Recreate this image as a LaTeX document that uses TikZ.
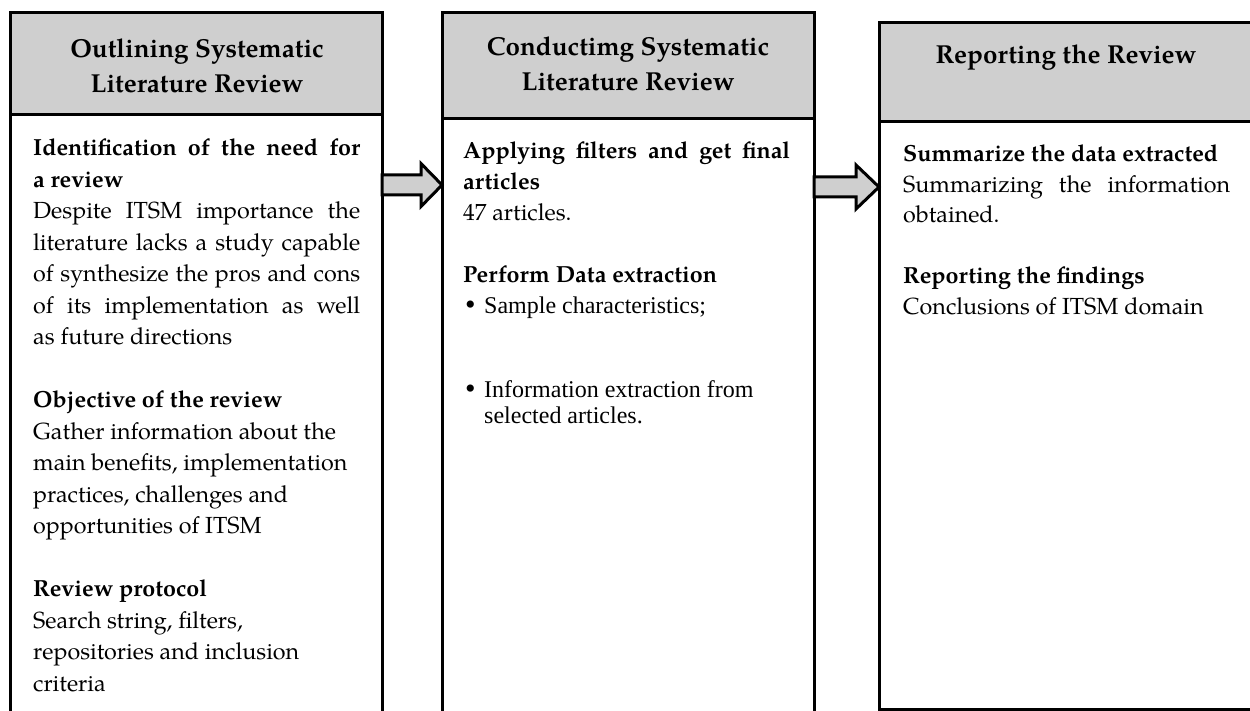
\documentclass[tikz,border=0pt]{standalone}
\usepackage{fontspec}
\setmainfont{TeX Gyre Pagella}
\newfontfamily\timesfont{Liberation Serif}
\usetikzlibrary{calc}
\definecolor{hdrgray}{HTML}{CFCFCF}
\newcommand{\hdrfont}{\fontsize{26}{35}\selectfont\bfseries}
\newcommand{\bodyfont}{\fontsize{23.3}{31.5}\selectfont}
\newcommand{\bulfont}{\timesfont\fontsize{24}{26}\selectfont}
\newcommand{\jl}[1]{\makebox[\linewidth][s]{#1}\\}
\newcommand{\mybul}{\makebox[21pt][l]{\hspace{2pt}\raisebox{-1.5pt}{\fontsize{30}{26}\selectfont\textbullet}}}
\tikzset{
  frame/.style={draw=black, line width=3pt, outer sep=0pt, inner sep=0pt, anchor=north west},
  hdrbox/.style={frame, fill=hdrgray},
  bodybox/.style={frame, fill=white},
  hdrtext/.style={align=center, font=\hdrfont, inner sep=0pt},
  txt/.style={anchor=base west, inner sep=0pt},
  blockarrow/.style={draw=black, line width=3pt, fill=hdrgray, line join=miter},
}
\begin{document}
\begin{tikzpicture}[x=1pt,y=-1pt]
\path[use as bounding box] (0,0) rectangle (1250,711);
\clip (0,0) rectangle (1250,711);

% boxes
\node[bodybox, minimum width=372pt, minimum height=640pt] (b1) at (10,115) {};
\node[hdrbox, minimum width=372pt, minimum height=102pt] (h1) at (10,13) {};
\node[bodybox, minimum width=372pt, minimum height=640pt] (b2) at (442,119) {};
\node[hdrbox, minimum width=372pt, minimum height=106pt] (h2) at (442,13) {};
\node[bodybox, minimum width=375pt, minimum height=587pt] (b3) at (879,122) {};
\node[hdrbox, minimum width=375pt, minimum height=99pt] (h3) at (879,23) {};

% header texts
\node[hdrtext] (h1t) at (197,66) {Outlining Systematic\\Literature Review};
\node[hdrtext] (h2t) at (628,64) {Conductimg Systematic\\Literature Review};
\node[hdrtext, anchor=base] (h3t) at (1066,64) {Reporting the Review};

% body texts
\node[txt] (t1) at (33,156) {\begin{minipage}[t]{327pt}\bodyfont
\jl{\textbf{Identification of the need for}}
\textbf{a review}\\
\jl{Despite ITSM importance the}
\jl{literature lacks a study capable}
\jl{of synthesize the pros and cons}
\jl{of its implementation as well}
as future directions\\
\mbox{}\\
\textbf{Objective of the review}\\
Gather information about the\\
main benefits, implementation\\
practices, challenges and\\
opportunities of ITSM\\
\mbox{}\\
\textbf{Review protocol}\\
Search string, filters,\\
repositories and inclusion\\
criteria
\end{minipage}};

\node[txt] (t2) at (463,159) {\begin{minipage}[t]{327pt}\bodyfont\baselineskip=31pt
\jl{\textbf{Applying filters and get final}}
\textbf{articles}\\
47 articles.\\
\mbox{}\\
\textbf{Perform Data extraction}
\end{minipage}};

\node[txt] (t2a) at (463,313) {\begin{minipage}[t]{327pt}\bulfont
\hangindent=21pt\hangafter=1\noindent\mybul Sample characteristics;
\end{minipage}};
\node[txt] (t2b) at (463,397) {\begin{minipage}[t]{327pt}\bulfont
\hangindent=21pt\hangafter=1\noindent\mybul Information extraction from\\
selected articles.
\end{minipage}};

\node[txt] (t3) at (903,162) {\begin{minipage}[t]{327pt}\bodyfont\baselineskip=30.5pt
\textbf{Summarize the data extracted}\\
\jl{Summarizing the information}
obtained.\\
\mbox{}\\
\textbf{Reporting the findings}\\
Conclusions of ITSM domain
\end{minipage}};

% arrows
\path (b1.east |- 0,185) coordinate (a1s) (b2.west |- 0,185) coordinate (a1e);
\path (b2.east |- 0,187) coordinate (a2s) (b3.west |- 0,187) coordinate (a2e);
\draw[blockarrow] let \p1=(a1s), \p2=(a1e) in
  (\x1,\y1+10pt) -- (\x2-21pt,\y1+10pt) -- (\x2-21pt,\y1+21.5pt) -- (\x2,\y2)
  -- (\x2-21pt,\y1-21.5pt) -- (\x2-21pt,\y1-10pt) -- (\x1,\y1-10pt) -- cycle;
\draw[blockarrow] let \p1=(a2s), \p2=(a2e) in
  (\x1,\y1+10pt) -- (\x2-23pt,\y1+10pt) -- (\x2-23pt,\y1+22pt) -- (\x2,\y2)
  -- (\x2-23pt,\y1-22pt) -- (\x2-23pt,\y1-10pt) -- (\x1,\y1-10pt) -- cycle;
\end{tikzpicture}
\end{document}
